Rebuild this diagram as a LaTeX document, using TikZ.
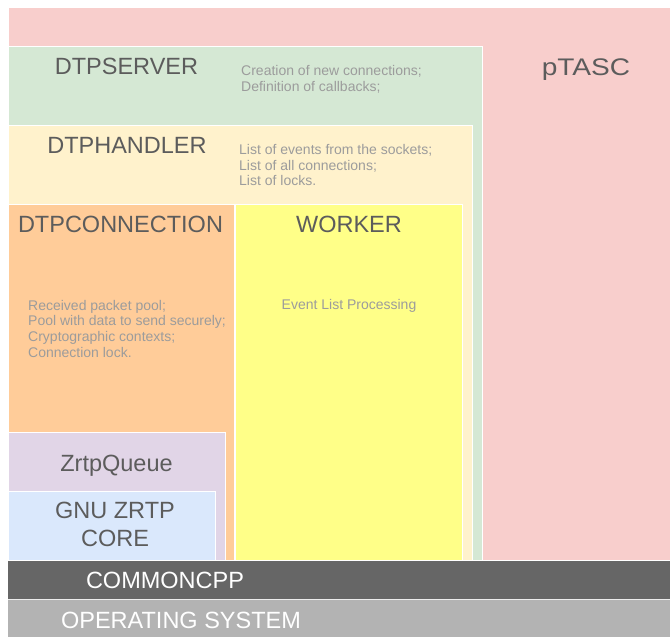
\documentclass[tikz,border=0pt]{standalone}
\usepackage{fontspec}
\usepackage{graphicx}
\setmainfont{Liberation Sans}
\definecolor{cpink}{HTML}{F8CECC}
\definecolor{cgreen}{HTML}{D5E8D4}
\definecolor{ccream}{HTML}{FFF2CC}
\definecolor{corange}{HTML}{FFCC99}
\definecolor{cyellow}{HTML}{FFFF88}
\definecolor{cpurple}{HTML}{E1D5E7}
\definecolor{cblue}{HTML}{DAE8FC}
\definecolor{cdark}{HTML}{666666}
\definecolor{cgray}{HTML}{B3B3B3}
\definecolor{ctitle}{HTML}{5C5C5C}
\definecolor{cnote}{HTML}{9C9C9C}
\begin{document}
\begin{tikzpicture}[x=1pt,y=-1pt,
  layer/.style={draw=white,line width=1pt},
  title/.style={font=\fontsize{23.5}{28}\selectfont,text=ctitle,inner sep=0pt,anchor=base},
  wtitle/.style={font=\fontsize{23.5}{28}\selectfont,text=white,inner sep=0pt,anchor=base},
  note/.style={font=\fontsize{14}{16}\selectfont,text=cnote,inner sep=0pt,anchor=base west},
  cnote/.style={font=\fontsize{14}{16}\selectfont,text=cnote,inner sep=0pt,anchor=base}]
\useasboundingbox (0,0) rectangle (670,637);
\fill[white] (0,0) rectangle (670,637);
% layers
\path[layer,fill=cpink]   (8,7)   rectangle (671,560);
\path[layer,fill=cgreen]  (8,46)  rectangle (482,560);
\path[layer,fill=ccream]  (8,125) rectangle (472.5,560);
\path[layer,fill=corange] (8,204) rectangle (234,560);
\path[layer,fill=cyellow] (235,204) rectangle (462,560);
\path[layer,fill=cpurple] (8,432) rectangle (225,560);
\path[layer,fill=cblue]   (8,491) rectangle (215,560);
\path[fill=cdark]  (8,560.5) rectangle (671,599);
\path[fill=cgray]  (8,600) rectangle (671,638);
\draw[white!85!gray,line width=1pt] (8,599.5) -- (671,599.5);
% titles
\node[title,font=\fontsize{24}{28}\selectfont] (ptasc) at (586,75) {\scalebox{1.17}[1]{pTASC}};
\node[title] (srv) at (126.5,74) {DTPSERVER};
\node[title] (hnd) at (127,153) {DTPHANDLER};
\node[title] (con) at (120.5,232) {DTPCONNECTION};
\node[title] (wrk) at (349,232) {WORKER};
\node[title] (zq) at (116.5,471) {ZrtpQueue};
\node[title] (gnu1) at (115,518) {GNU ZRTP};
\node[title] (gnu2) at (115,546) {CORE};
\node[wtitle] (ccpp) at (165,588) {COMMONCPP};
\node[wtitle] (os) at (181,628) {OPERATING SYSTEM};
% notes
\node[note] (s1) at (241,75) {Creation of new connections;};
\node[note] (s2) at (241,91) {Definition of callbacks;};
\node[note] (h1) at (239,154.3) {List of events from the sockets;};
\node[note] (h2) at (239,170) {List of all connections;};
\node[note] (h3) at (239,185.6) {List of locks.};
\node[note] (c1) at (28,310) {Received packet pool;};
\node[note] (c2) at (28,325.7) {Pool with data to send securely;};
\node[note] (c3) at (28,341.3) {Cryptographic contexts;};
\node[note] (c4) at (28,357) {Connection lock.};
\node[cnote] (w1) at (349,309) {Event List Processing};
\end{tikzpicture}
\end{document}
